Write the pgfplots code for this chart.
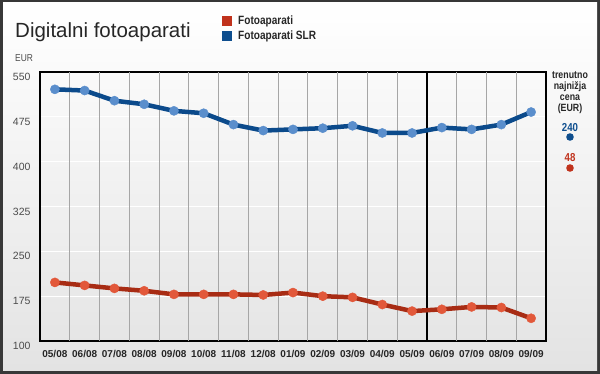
\documentclass[border=0pt]{standalone}
\usepackage{pgfplots}
\pgfplotsset{compat=1.18}
\usepackage{fontspec}
\setmainfont{Liberation Sans}
\newfontfamily\cond[FakeStretch=0.84]{Liberation Sans}
\definecolor{redline}{HTML}{A82C14}
\definecolor{redmark}{HTML}{E2583A}
\definecolor{blueline}{HTML}{0B4A8B}
\definecolor{bluemark}{HTML}{5A8ECC}
\definecolor{redsq}{HTML}{C0321C}
\definecolor{bluesq}{HTML}{0E4E8E}
\begin{document}
\begin{tikzpicture}[x=1pt,y=1pt]
\fill[black!78] (0pt,0pt) rectangle (600pt,374pt);
\shade[top color=white, bottom color=black!11] (3pt,3pt) rectangle (597pt,371pt);
% title and legend
\node[anchor=base west, inner sep=0, font=\fontsize{20.5}{24}\selectfont, text=black!85] at (15pt,336pt) {Digitalni fotoaparati};
\fill[redsq] (222pt,348pt) rectangle (232pt,358pt);
\fill[bluesq] (222pt,333pt) rectangle (232pt,343pt);
\node[anchor=west, inner sep=0, font=\cond\bfseries\fontsize{12}{14}\selectfont, text=black!85] at (238pt,353pt) {Fotoaparati};
\node[anchor=west, inner sep=0, font=\cond\bfseries\fontsize{12}{14}\selectfont, text=black!85] at (238pt,338pt) {Fotoaparati SLR};
\node[anchor=west, inner sep=0, font=\cond\fontsize{10}{11}\selectfont, text=black!70] at (15pt,315.5pt) {EUR};
% right side
\node[align=center, inner sep=0, font=\cond\bfseries\fontsize{10.5}{11}\selectfont, text=black!85] at (570pt,281pt) {trenutno\\najnižja\\cena\\(EUR)};
\node[inner sep=0, font=\cond\bfseries\fontsize{11.5}{12}\selectfont, text=bluesq] at (570pt,246pt) {240};
\fill[bluesq] (570pt,237pt) circle (3.8pt);
\node[inner sep=0, font=\cond\bfseries\fontsize{11.5}{12}\selectfont, text=redsq] at (570pt,216pt) {48};
\fill[redsq] (570pt,206pt) circle (3.8pt);
\begin{axis}[
  at={(40pt,33pt)}, anchor=south west,
  scale only axis, width=506pt, height=269pt,
  xmin=-0.5, xmax=16.5, ymin=100, ymax=550,
  xtick={0,...,16},
  xticklabels={05/08,06/08,07/08,08/08,09/08,10/08,11/08,12/08,01/09,02/09,03/09,04/09,05/09,06/09,07/09,08/09,09/09},
  ytick={100,175,250,325,400,475,550},
  major tick length=0pt,
  ymajorgrids,
  every axis y grid/.style={white, line width=1.2pt},
  extra x ticks={0.5,1.5,2.5,3.5,4.5,5.5,6.5,7.5,8.5,9.5,10.5,11.5,13.5,14.5,15.5},
  extra x tick labels={},
  extra x tick style={grid=major, major grid style={black!35, line width=0.9pt}},
  axis line style={black, line width=1.4pt},
  /pgf/number format/assume math mode=true,
  yticklabel style={font=\fontsize{10.5}{12}\selectfont, text=black!70, yshift=-5pt, xshift=-6pt},
  xticklabel style={font=\bfseries\fontsize{10}{12}\selectfont, text=black!85, yshift=-6pt},
]
\draw[black, line width=1.4pt] (axis cs:12.5,100) -- (axis cs:12.5,550);
\addplot[redline, line width=4.5pt, mark=*, mark size=4.6pt, mark options={solid, fill=redmark, draw=redmark, line width=0.4pt}] coordinates {
(0,198) (1,193) (2,188) (3,184) (4,178) (5,178) (6,178) (7,177) (8,181) (9,175) (10,173) (11,161) (12,150) (13,153) (14,157) (15,156) (16,138)
};
\addplot[blueline, line width=4.5pt, mark=*, mark size=4.6pt, mark options={solid, fill=bluemark, draw=bluemark, line width=0.4pt}] coordinates {
(0,521) (1,519) (2,502) (3,496) (4,485) (5,481) (6,462) (7,452) (8,454) (9,456) (10,460) (11,448) (12,448) (13,457) (14,454) (15,462) (16,483)
};
\end{axis}
\end{tikzpicture}
\end{document}
